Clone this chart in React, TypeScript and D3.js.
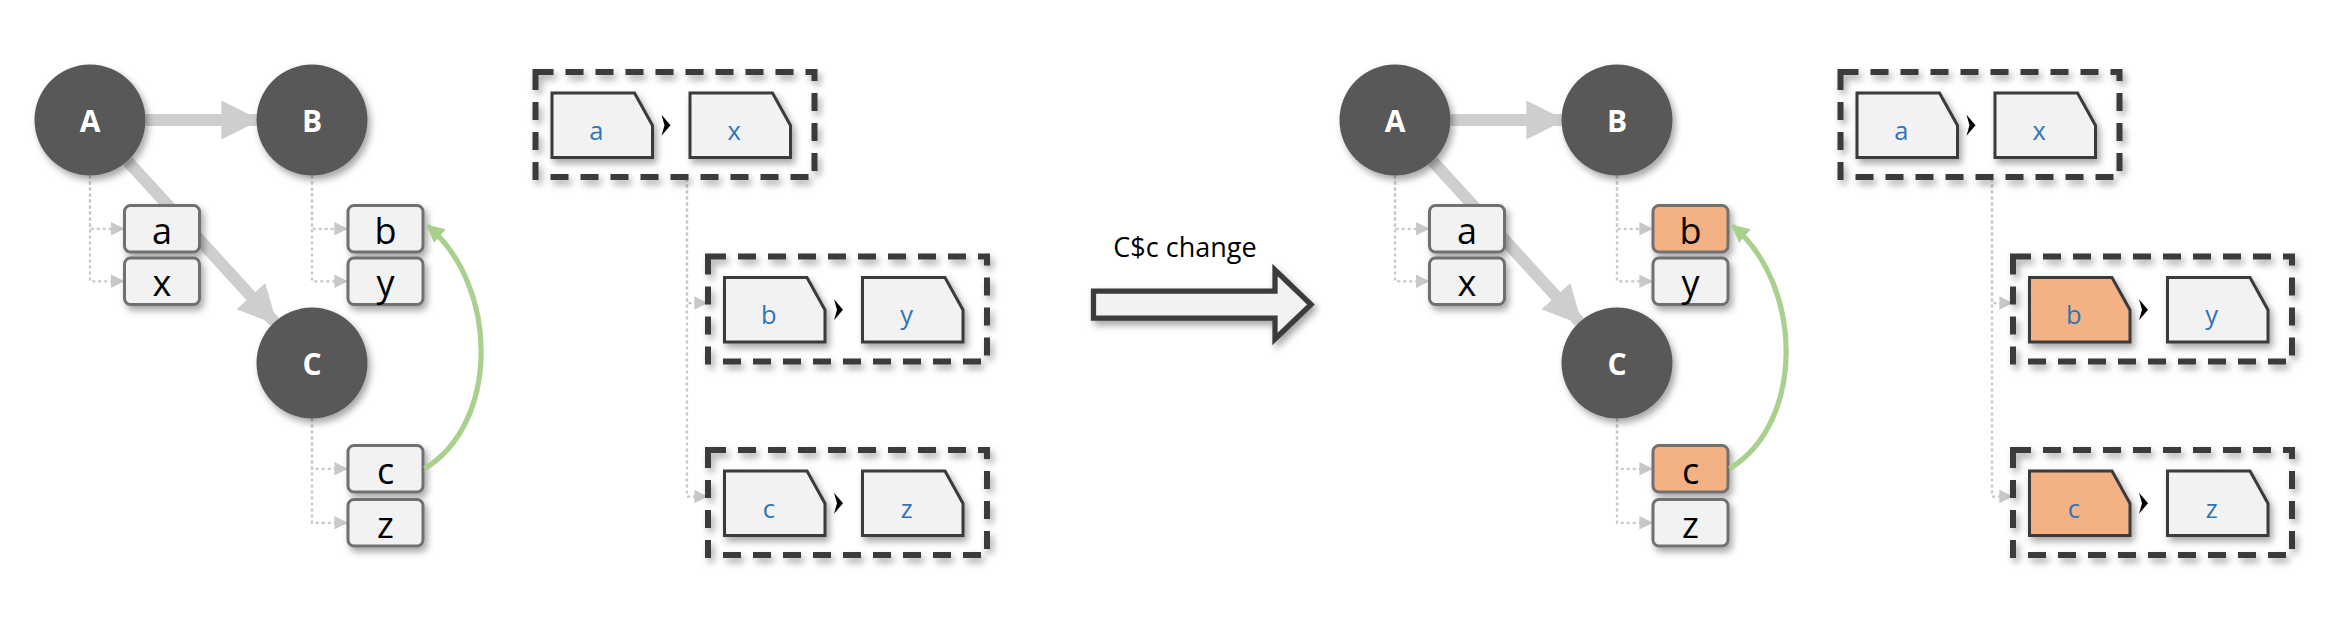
import React, { useEffect, useRef } from 'react';
import * as d3 from 'd3';

// design coordinates are in a 1560x421 space, scaled 1.5x to the 2340x632 page
const panels = [
  { dx: 0, changed: [] as string[] },
  { dx: 870, changed: ['b', 'c'] },
];
const nodes = [
  { id: 'A', x: 60, y: 80 },
  { id: 'B', x: 208, y: 80 },
  { id: 'C', x: 208, y: 242 },
];
const cells = [
  { owner: 'A', label: 'a', x: 83, y: 137 },
  { owner: 'A', label: 'x', x: 83, y: 172 },
  { owner: 'B', label: 'b', x: 232, y: 137 },
  { owner: 'B', label: 'y', x: 232, y: 172 },
  { owner: 'C', label: 'c', x: 232, y: 297 },
  { owner: 'C', label: 'z', x: 232, y: 333 },
];
const groups = [
  { keys: ['a', 'x'], x: 357, y: 45 },
  { keys: ['b', 'y'], x: 472, y: 168 },
  { keys: ['c', 'z'], x: 472, y: 297 },
];

const App: React.FC = () => {
  const svgRef = useRef<SVGSVGElement>(null);

  useEffect(() => {
    if (!svgRef.current) return;
    const svg = d3.select(svgRef.current);
    svg.selectAll('*').remove();

    const defs = svg.append('defs');
    const f = defs.append('filter').attr('id', 'sh').attr('x', '-30%').attr('y', '-30%').attr('width', '170%').attr('height', '170%');
    f.append('feDropShadow').attr('dx', 2).attr('dy', 3).attr('stdDeviation', 2.5).attr('flood-color', '#000').attr('flood-opacity', 0.35);

    const marker = (id: string, color: string, w: number, h: number) => {
      defs.append('marker').attr('id', id).attr('viewBox', '0 0 10 10')
        .attr('refX', 9).attr('refY', 5).attr('markerWidth', w).attr('markerHeight', h)
        .attr('markerUnits', 'userSpaceOnUse').attr('orient', 'auto')
        .append('path').attr('d', 'M0,0 L10,5 L0,10 Z').attr('fill', color);
    };
    marker('thick', '#cfcdce', 26, 26);
    marker('dot', '#c8c8c8', 9, 10);
    marker('green', '#a9d18e', 12, 14);

    const root = svg.append('g').attr('transform', 'scale(1.5)');
    const R = 37;
    const cw = 50, ch = 31;
    const byId = new Map(nodes.map(n => [n.id, n]));

    panels.forEach(p => {
      const g = root.append('g').attr('transform', `translate(${p.dx},0)`);

      // dotted owner lines
      cells.forEach(c => {
        const n = byId.get(c.owner)!;
        g.append('path')
          .attr('d', `M${n.x},${n.y + R} V${c.y + ch / 2} H${c.x - 1}`)
          .attr('fill', 'none').attr('stroke', '#c8c8c8').attr('stroke-width', 1.5)
          .attr('stroke-dasharray', '2,2').attr('marker-end', 'url(#dot)');
      });

      // thick grey edges
      const edge = (a: string, b: string) => {
        const s = byId.get(a)!, t = byId.get(b)!;
        const ang = Math.atan2(t.y - s.y, t.x - s.x);
        g.append('line')
          .attr('x1', s.x + R * Math.cos(ang)).attr('y1', s.y + R * Math.sin(ang))
          .attr('x2', t.x - R * Math.cos(ang)).attr('y2', t.y - R * Math.sin(ang))
          .attr('stroke', '#cfcdce').attr('stroke-width', 8).attr('marker-end', 'url(#thick)');
      };
      edge('A', 'B');
      edge('A', 'C');

      nodes.forEach(n => {
        g.append('circle').attr('cx', n.x).attr('cy', n.y).attr('r', R)
          .attr('fill', '#595959').attr('filter', 'url(#sh)');
        g.append('text').attr('x', n.x).attr('y', n.y).attr('text-anchor', 'middle')
          .attr('dominant-baseline', 'central').attr('fill', '#fff')
          .attr('font-family', 'Open Sans, sans-serif').attr('font-weight', 'bold').attr('font-size', 20)
          .text(n.id);
      });

      cells.forEach(c => {
        const on = p.changed.includes(c.label);
        g.append('rect').attr('x', c.x).attr('y', c.y).attr('width', cw).attr('height', ch).attr('rx', 4)
          .attr('fill', on ? '#f4b183' : '#f2f2f2').attr('stroke', '#6f6f6f').attr('stroke-width', 2)
          .attr('filter', 'url(#sh)');
        g.append('text').attr('x', c.x + cw / 2).attr('y', c.y + ch / 2 + 1).attr('text-anchor', 'middle')
          .attr('dominant-baseline', 'central').attr('font-family', 'Open Sans, sans-serif')
          .attr('font-size', 24).attr('fill', '#000').text(c.label);
      });

      // green dependency arc c -> b
      const cc = cells.find(c => c.label === 'c')!, bb = cells.find(c => c.label === 'b')!;
      const x0 = cc.x + cw + 1, y0 = cc.y + ch / 2;
      const x1 = bb.x + cw + 3, y1 = bb.y + ch / 2 - 2;
      const path = d3.path();
      path.moveTo(x0, y0);
      path.bezierCurveTo(x0 + 50, y0 - 30, x0 + 50, y1 + 40, x1, y1);
      g.append('path').attr('d', path.toString()).attr('fill', 'none')
        .attr('stroke', '#a9d18e').attr('stroke-width', 3.5).attr('marker-end', 'url(#green)');

      // tree connector between groups
      const gw = 186, gh = 70;
      const g0 = groups[0];
      const tx = g0.x + 101;
      groups.slice(1).forEach(gr => {
        g.append('path').attr('d', `M${tx},${g0.y + gh + 4} V${gr.y + 34} H${gr.x - 1}`)
          .attr('fill', 'none').attr('stroke', '#c8c8c8').attr('stroke-width', 1.5)
          .attr('stroke-dasharray', '2,2').attr('marker-end', 'url(#dot)');
      });

      groups.forEach(gr => {
        g.append('rect').attr('x', gr.x).attr('y', gr.y + 3).attr('width', gw).attr('height', gh)
          .attr('fill', 'none').attr('stroke', '#3a3a3a').attr('stroke-width', 4)
          .attr('stroke-dasharray', '12,8').attr('filter', 'url(#sh)');
        gr.keys.forEach((k, i) => {
          const dx = gr.x + 11 + i * 92, dy = gr.y + 17;
          const w = 67, h = 43, cut = 12;
          const on = p.changed.includes(k);
          g.append('path')
            .attr('d', `M${dx},${dy} H${dx + w - cut} L${dx + w},${dy + cut * 1.8} V${dy + h} H${dx} Z`)
            .attr('fill', on ? '#f4b183' : '#f2f2f2').attr('stroke', '#3a3a3a').attr('stroke-width', 2)
            .attr('filter', 'url(#sh)');
          g.append('text').attr('x', dx + w / 2 - 4).attr('y', dy + h / 2 + 3).attr('text-anchor', 'middle')
            .attr('dominant-baseline', 'central').attr('font-family', 'Open Sans, sans-serif')
            .attr('font-size', 17).attr('fill', '#2e75b6').text(k);
          if (i === 0) {
            g.append('path')
              .attr('d', `M${dx + w + 6},${dy + h / 2 - 7} L${dx + w + 12},${dy + h / 2} L${dx + w + 6},${dy + h / 2 + 7} L${dx + w + 8},${dy + h / 2} Z`)
              .attr('fill', '#000');
          }
        });
      });
    });

    // transition arrow
    root.append('path')
      .attr('d', 'M729,194 H850 V180 L874,203 L850,226 V212 H729 Z')
      .attr('fill', '#f2f2f2').attr('stroke', '#3a3a3a').attr('stroke-width', 3.5).attr('filter', 'url(#sh)');
    root.append('text').attr('x', 790).attr('y', 164).attr('text-anchor', 'middle')
      .attr('dominant-baseline', 'central').attr('font-family', 'Open Sans, sans-serif')
      .attr('font-size', 18).attr('fill', '#000').text('C$c change');
  }, []);

  return (
    <svg ref={svgRef} width={2340} height={632}
      style={{ position: 'absolute', left: 0, top: 0, background: '#fff' }} />
  );
};

export default App;
